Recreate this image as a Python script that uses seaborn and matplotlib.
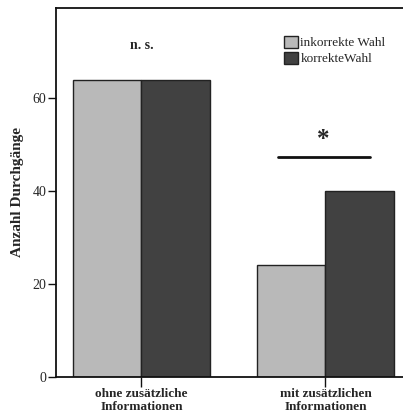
import matplotlib
matplotlib.use("Agg")
import matplotlib.pyplot as plt
import seaborn as sns
import pandas as pd

conditions = ["ohne zusätzliche\nInformationen", "mit zusätzlichen\nInformationen"]
choices = ["inkorrekte Wahl", "korrekteWahl"]
incorrect = [64, 24]
correct = [64, 40]
y_ticks = [0, 20, 40, 60]

df = pd.DataFrame({
    "Bedingung": conditions * 2,
    "Wahl": [choices[0]] * 2 + [choices[1]] * 2,
    "Anzahl": incorrect + correct,
})

sns.set_style("white")
plt.rcParams["font.family"] = ["Liberation Serif", "DejaVu Serif"]

fig = plt.figure(figsize=(4.03, 4.17), dpi=100)
ax = fig.add_axes([0.139, 0.096, 0.865, 0.885])

sns.barplot(data=df, x="Bedingung", y="Anzahl", hue="Wahl",
            palette=["#b9b9b9", "#414141"], width=0.743,
            edgecolor="#222222", linewidth=1.0, ax=ax, errorbar=None)

ax.set_ylim(0, 79.4)
ax.set_xlim(-0.464, 1.43)
ax.set_yticks(y_ticks)
ax.set_yticklabels([str(v) for v in y_ticks], fontsize=10)
ax.set_xticks([0, 1])
ax.set_xticklabels(conditions, fontsize=9.5, fontweight="bold", linespacing=1.05)
ax.tick_params(axis="y", length=6, width=1, color="#111111", direction="out",
               pad=1, left=True)
ax.tick_params(axis="x", length=7, width=1, color="#111111", direction="out",
               pad=1, bottom=True)
ax.set_xlabel("")
ax.set_ylabel("Anzahl Durchgänge", fontsize=11, fontweight="bold", labelpad=6)

for side in ["left", "bottom", "top"]:
    ax.spines[side].set_color("#111111")
    ax.spines[side].set_linewidth(1.3)
ax.spines["right"].set_visible(False)

# significance annotations
ax.text(0, 71.4, "n. s.", ha="center", va="center", fontsize=10, fontweight="bold")
ax.plot([0.74, 1.24], [47.4, 47.4], color="#111111", lw=2)
ax.text(0.99, 51.1, "*", ha="center", va="center", fontsize=18, fontweight="bold")

leg = ax.legend(loc="upper left", bbox_to_anchor=(284 / 403, 1 - 36 / 417),
                bbox_transform=fig.transFigure, frameon=False,
                fontsize=9.5, handlelength=1.05, handleheight=1.0,
                handletextpad=0.2, labelspacing=0.2, borderaxespad=0, borderpad=0)
leg.set_title(None)

fig.savefig("out.png", dpi=100)
